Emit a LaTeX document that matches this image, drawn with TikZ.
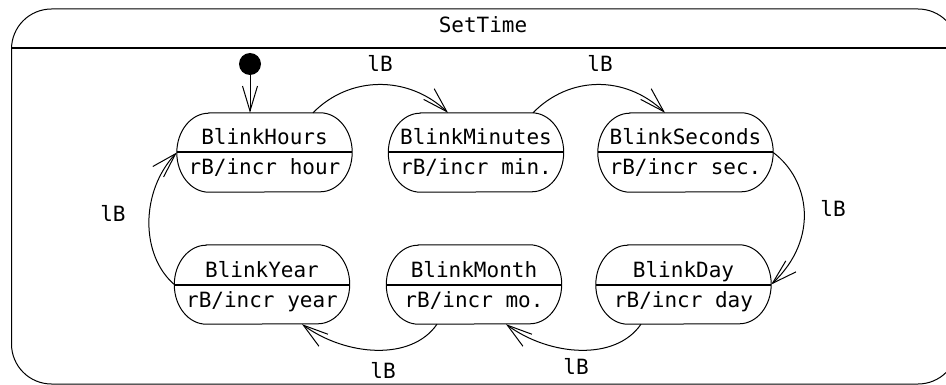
\documentclass[tikz,border=0pt]{standalone}
\usepackage{fontspec}
\newfontfamily\umlfont{DejaVu Sans Mono}
\usetikzlibrary{arrows.meta,bending}
\newcommand\umlstate[5]{%
  \node[statebox] (#1) at (#2,-#3-39.5) {};
  \draw[stateline] ([xshift=32pt]#1.north west) -- ([xshift=-32pt]#1.north east)
     arc[start angle=90,end angle=-90,x radius=32pt,y radius=39.5pt]
     -- ([xshift=32pt]#1.south west)
     arc[start angle=270,end angle=90,x radius=32pt,y radius=39.5pt] -- cycle;
  \draw[divline] (#1.west) -- (#1.east);
  \node[txt] (#1title) at ([yshift=7.5pt]#1.center) {#4};
  \node[txt] (#1action) at ([yshift=-22.5pt]#1.center) {#5};
}
\begin{document}
\begin{tikzpicture}[x=1pt,y=1pt,
  statebox/.style={rectangle,minimum width=175pt,minimum height=79pt,inner sep=0pt},
  stateline/.style={line width=1pt},
  divline/.style={line width=2pt},
  txt/.style={font=\umlfont\fontsize{21}{25}\selectfont,inner sep=0pt,anchor=base},
  trans/.style={line width=1pt,-{Straight Barb[length=25pt,width=15pt]}},
]
\useasboundingbox (0,0) rectangle (946,-385);
\clip (0,0) rectangle (946,-385);
% outer composite state
\node[draw,line width=1pt,rounded corners=40pt,minimum width=946.5pt,minimum height=375pt,inner sep=0pt]
  (settime) at (484.75,-196.5) {};
\coordinate (hdrL) at (11.5,-48);
\coordinate (hdrR) at (958,-48);
\draw[divline] (hdrL) -- (hdrR);
\node[txt] (title) at (483,-33) {SetTime};
% states
\umlstate{hours}{264.5}{113}{BlinkHours}{rB/incr hour}
\umlstate{minutes}{476}{113}{BlinkMinutes}{rB/incr min.}
\umlstate{seconds}{685.5}{113}{BlinkSeconds}{rB/incr sec.}
\umlstate{year}{262}{245}{BlinkYear}{rB/incr year}
\umlstate{month}{474}{245}{BlinkMonth}{rB/incr mo.}
\umlstate{day}{683.5}{245}{BlinkDay}{rB/incr day}
% initial
\node[circle,fill,minimum size=22pt,inner sep=0pt] (init) at (250,-64) {};
\draw[trans] (init) -- (init |- hours.north);
% transitions
\draw[trans] ([xshift=48.5pt]hours.north) .. controls (350,-75) and (410,-75) .. ([xshift=-28pt]minutes.north);
\draw[trans] ([xshift=57pt]minutes.north) .. controls (570,-75) and (627,-75) .. ([xshift=-20.5pt]seconds.north);
\draw[trans] (seconds.east) .. controls (810,-180) and (820,-240) .. (day.east);
\draw[trans] ([xshift=-42.5pt]day.south) .. controls (615,-362) and (548,-356) .. ([xshift=32pt]month.south);
\draw[trans] ([xshift=-37pt]month.south) .. controls (411,-362) and (344,-356) .. ([xshift=40pt]year.south);
\draw[trans] (year.west) .. controls (140,-255) and (140,-190) .. (hours.west);
% labels
\node[txt] (l1) at (380,-72) {lB};
\node[txt] (l2) at (600,-72) {lB};
\node[txt] (l3) at (833,-216) {lB};
\node[txt] (l4) at (576,-374) {lB};
\node[txt] (l5) at (383,-378) {lB};
\node[txt] (l6) at (113,-222) {lB};
\end{tikzpicture}
\end{document}
